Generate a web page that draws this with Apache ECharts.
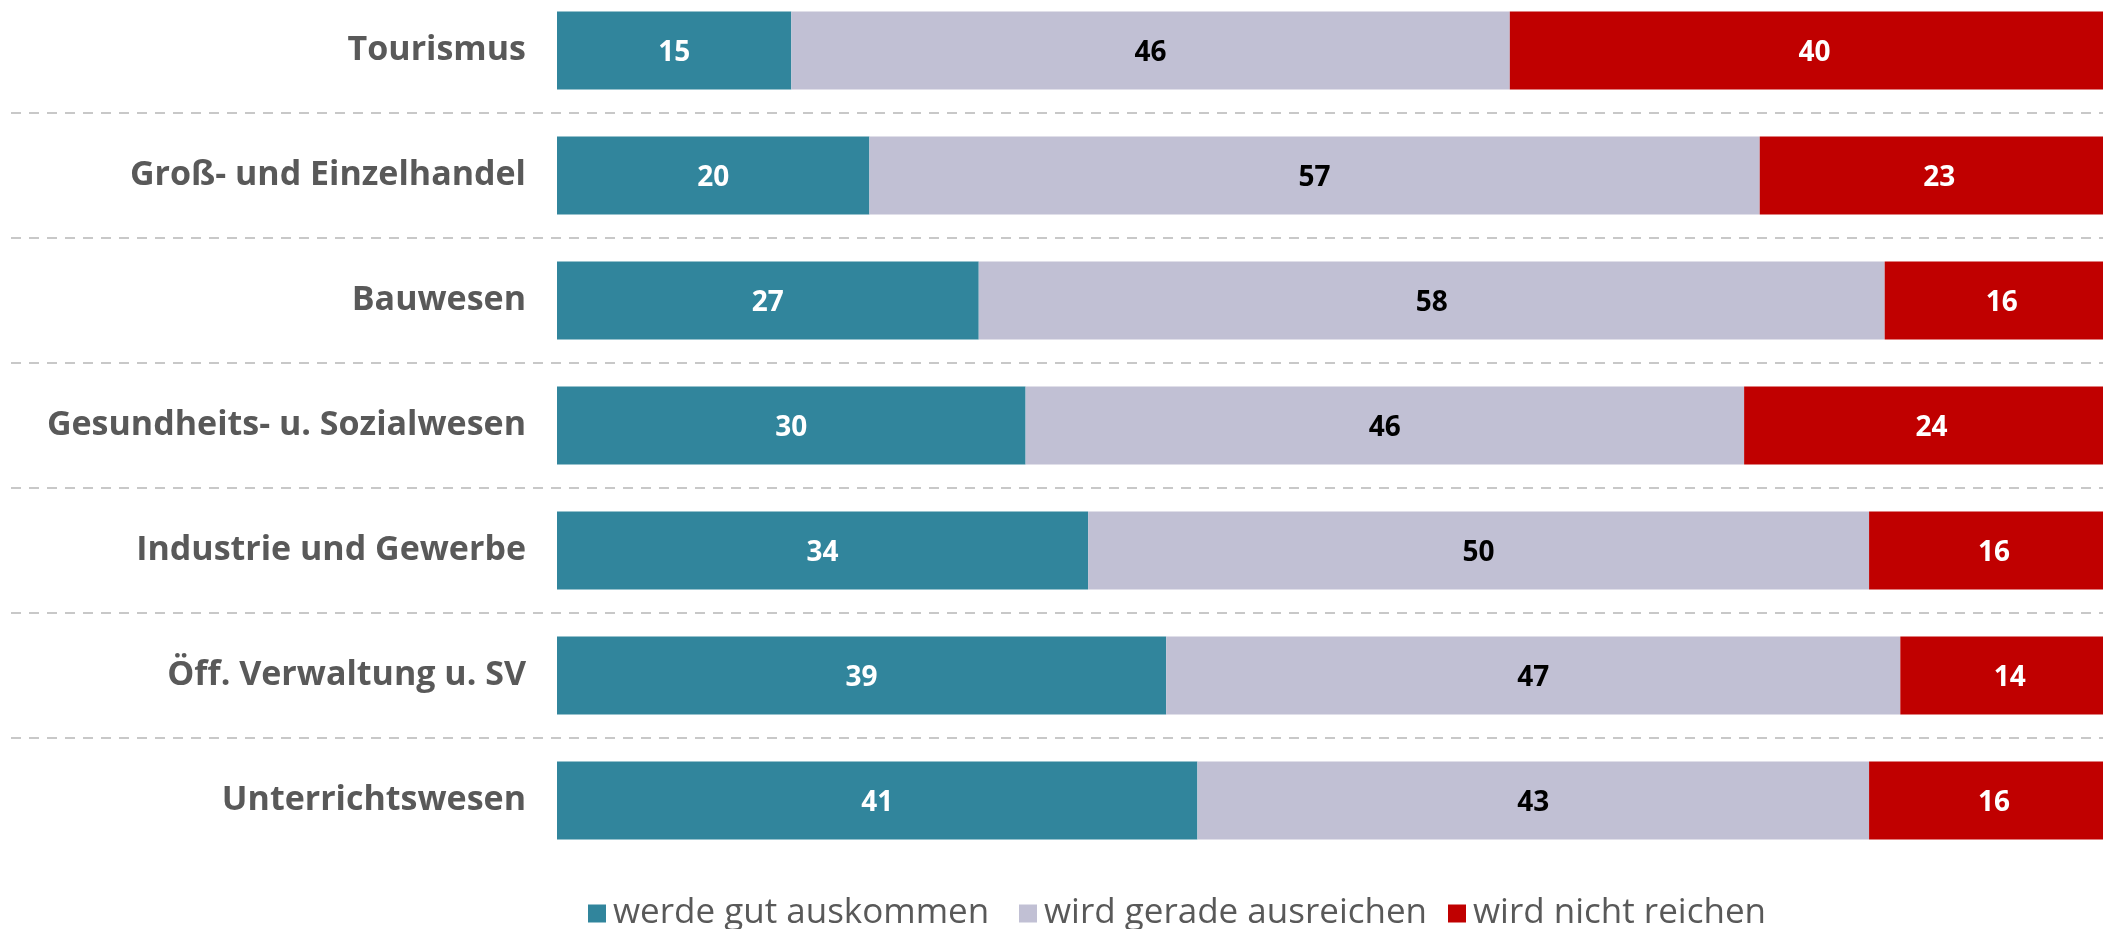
<!DOCTYPE html>
<html>
<head>
<meta charset="utf-8">
<title>Auskommen nach Branche</title>
<script src="https://cdn.jsdelivr.net/npm/echarts@6/dist/echarts.min.js"></script>
<style>
	html, body { margin: 0; padding: 0; background: #fff; }
	#chart { width: 2103px; height: 929px; }
</style>
</head>
<body>
<div id="chart"></div>
<script>
// Branchen, von oben nach unten
var categories = ['Tourismus', 'Groß- und Einzelhandel', 'Bauwesen', 'Gesundheits- u. Sozialwesen',
	'Industrie und Gewerbe', 'Öff. Verwaltung u. SV', 'Unterrichtswesen'];
var seriesNames = ['werde gut auskommen', 'wird gerade ausreichen', 'wird nicht reichen'];
var gutValues = [15, 20, 27, 30, 34, 39, 41];
var geradeValues = [46, 57, 58, 46, 50, 47, 43];
var nichtValues = [40, 23, 16, 24, 16, 14, 16];

var colors = ['#31859C', '#C1C0D4', '#C00000'];
var labelColors = ['#ffffff', '#000000', '#ffffff'];

(function() {
	var chart = echarts.init(document.getElementById('chart'));
	// y-Achse laeuft von unten nach oben, daher umdrehen
	var cats = categories.slice().reverse();
	var data = [gutValues, geradeValues, nichtValues];

	var series = [];
	for (var i = 0; i < seriesNames.length; i++) {
		series.push({
			name: seriesNames[i],
			type: 'bar',
			stack: 'total',
			barWidth: 78,
			xAxisIndex: 0,
			yAxisIndex: 0,
			itemStyle: {color: colors[i]},
			label: {
				show: true,
				position: 'inside',
				offset: [0, 3],
				color: labelColors[i],
				fontFamily: 'Open Sans',
				fontWeight: 'bold',
				fontSize: 28
			},
			data: data[i].slice().reverse()
		});
	}

	var legendLeft = [588, 1019, 1448];
	var legends = [];
	for (var j = 0; j < seriesNames.length; j++) {
		legends.push({
			data: [seriesNames[j]],
			left: legendLeft[j],
			top: 896,
			padding: 0,
			icon: 'rect',
			itemWidth: 18,
			itemHeight: 18,
			itemGap: 0,
			selectedMode: false,
			textStyle: {fontFamily: 'Open Sans', fontSize: 35, color: '#595959', padding: [0, 0, 0, 2]}
		});
	}

	var option = {
		animation: false,
		backgroundColor: '#ffffff',
		legend: legends,
		grid: [
			{left: 557, right: -16, top: -12, bottom: 66, outerBoundsMode: 'none'},
			{left: 11, right: 0, top: -12, bottom: 66, outerBoundsMode: 'none'}
		],
		xAxis: [
			{type: 'value', gridIndex: 0, min: 0, max: 100, show: false},
			{type: 'value', gridIndex: 1, min: 0, max: 1, show: false}
		],
		yAxis: [
			{
				type: 'category',
				gridIndex: 0,
				data: cats,
				axisLine: {show: false},
				axisTick: {show: false},
				splitLine: {show: false},
				axisLabel: {
					margin: 31,
					padding: [5, 0, 0, 0],
					fontFamily: 'Open Sans',
					fontWeight: 'bold',
					fontSize: 34,
					color: '#595959'
				}
			},
			{
				// nur fuer die gestrichelten Trennlinien ueber die ganze Breite
				type: 'category',
				gridIndex: 1,
				data: cats,
				axisLine: {show: false},
				axisTick: {show: false},
				axisLabel: {show: false},
				splitLine: {
					show: true,
					interval: function(index) { return index > 0; },
					lineStyle: {color: '#C8C8C8', width: 2, type: [10, 8]}
				}
			}
		],
		series: series
	};
	chart.setOption(option);
})();
</script>
</body>
</html>
